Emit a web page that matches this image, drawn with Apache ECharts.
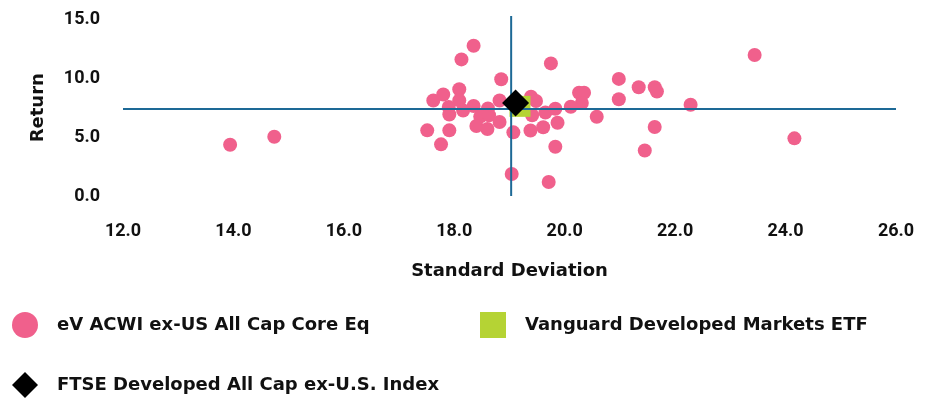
<!DOCTYPE html>
<html>
<head>
<meta charset="utf-8">
<script src="https://cdn.jsdelivr.net/npm/echarts@6/dist/echarts.min.js"></script>
<style>
html,body{margin:0;padding:0;background:#fff;}
#chart{width:937px;height:398px;}
</style>
</head>
<body>
<div id="chart"></div>
<script>
// ---- Data ----
var xTickLabels = ['12.0','14.0','16.0','18.0','20.0','22.0','24.0','26.0'];
var yTickLabels = ['0.0','5.0','10.0','15.0'];

var peerSD = [18.35,18.13,19.75,18.85,20.98,21.34,21.63,21.67,20.98,22.28,20.26,20.35,20.31,20.11,20.58,21.63,21.45,19.83,19.04,19.71,17.51,17.76,17.91,17.62,17.80,18.09,18.09,17.90,17.91,18.16,18.35,18.61,18.82,18.47,18.63,18.82,18.40,18.60,19.07,19.39,19.48,19.83,19.65,19.41,19.87,19.61,19.38,13.94,14.74,23.44,24.16];
var peerReturn = [12.77,11.61,11.27,9.92,9.95,9.24,9.24,8.88,8.22,7.76,8.78,8.78,7.90,7.59,6.74,5.86,3.87,4.19,1.87,1.19,5.58,4.39,5.58,8.11,8.62,9.07,8.13,7.56,6.92,7.26,7.65,7.43,8.11,6.75,6.86,6.29,5.95,5.69,5.41,8.44,8.07,7.42,7.09,6.86,6.23,5.84,5.57,4.36,5.04,11.98,4.90];

var etfSD = [19.19];
var etfReturn = [7.62];
var indexSD = [19.11];
var indexReturn = [7.90];

var medianSD = 19.03;
var medianReturn = 7.40;

var seriesNames = ['eV ACWI ex-US All Cap Core Eq','Vanguard Developed Markets ETF','FTSE Developed All Cap ex-U.S. Index'];

// ---- Build ----
function pairs(xs, ys){ return xs.map(function(x,i){ return [x, ys[i]]; }); }

var FONT = 'Roboto';
var NFONT = 'DejaVu Sans';
var LINE = '#1d6996';
var PINK = '#f0608c';
var GREEN = '#b5d334';
var legendText = {fontFamily: NFONT, fontWeight: 'bold', fontSize: 18, color: '#111', padding: [0,0,0,14]};

var chart = echarts.init(document.getElementById('chart'), null, {renderer:'canvas'});
var option = {
  animation: false,
  backgroundColor: '#fff',
  grid: {left: 123, right: 41, top: 19.5, bottom: 202, containLabel: false},
  xAxis: {
    type: 'value', min: 12, max: 26, interval: 2,
    name: 'Standard Deviation', nameLocation: 'middle', nameGap: 66,
    nameTextStyle: {fontFamily: NFONT, fontWeight: 'bold', fontSize: 18, color: '#111'},
    axisLine: {show: false}, axisTick: {show: false}, splitLine: {show: false},
    axisLabel: {margin: 26, fontFamily: FONT, fontWeight: 'bold', fontSize: 18, color: '#111',
      formatter: function(v){ var s = v.toFixed(1); return xTickLabels.indexOf(s) >= 0 ? s : ''; }}
  },
  yAxis: {
    type: 'value', min: 0, max: 15, interval: 5,
    name: 'Return', nameLocation: 'middle', nameGap: 76, nameRotate: 90,
    nameTextStyle: {fontFamily: NFONT, fontWeight: 'bold', fontSize: 18, color: '#111'},
    axisLine: {show: false}, axisTick: {show: false}, splitLine: {show: false},
    axisLabel: {margin: 23, fontFamily: FONT, fontWeight: 'bold', fontSize: 18, color: '#111',
      formatter: function(v){ var s = v.toFixed(1); return yTickLabels.indexOf(s) >= 0 ? s : ''; }}
  },
  legend: [
    {left: 7, top: 307, itemWidth: 26, itemHeight: 26, data: [{name: seriesNames[0], icon: 'circle'}], textStyle: legendText},
    {left: 475, top: 307, itemWidth: 26, itemHeight: 26, data: [{name: seriesNames[1], icon: 'rect'}], textStyle: legendText},
    {left: 7, top: 367, itemWidth: 26, itemHeight: 26, data: [{name: seriesNames[2], icon: 'diamond'}], textStyle: legendText}
  ],
  series: [
    {name: seriesNames[0], type: 'scatter', symbol: 'circle', symbolSize: 14, z: 2,
      itemStyle: {color: PINK, opacity: 1}, data: pairs(peerSD, peerReturn)},
    {name: seriesNames[1], type: 'scatter', symbol: 'rect', symbolSize: 21, z: 3,
      itemStyle: {color: GREEN, opacity: 1}, data: pairs(etfSD, etfReturn)},
    {name: 'hline', type: 'line', z: 4, clip: false, symbol: 'none', silent: true,
      lineStyle: {color: LINE, width: 2}, data: [[12, medianReturn],[26, medianReturn]]},
    {name: 'vline', type: 'line', z: 4, clip: false, symbol: 'none', silent: true,
      lineStyle: {color: LINE, width: 2}, data: [[medianSD, 0],[medianSD, 15.3]]},
    {name: seriesNames[2], type: 'scatter', symbol: 'diamond', symbolSize: 27, z: 5,
      itemStyle: {color: '#000', opacity: 1}, data: pairs(indexSD, indexReturn)}
  ]
};
chart.setOption(option);
</script>
</body>
</html>
